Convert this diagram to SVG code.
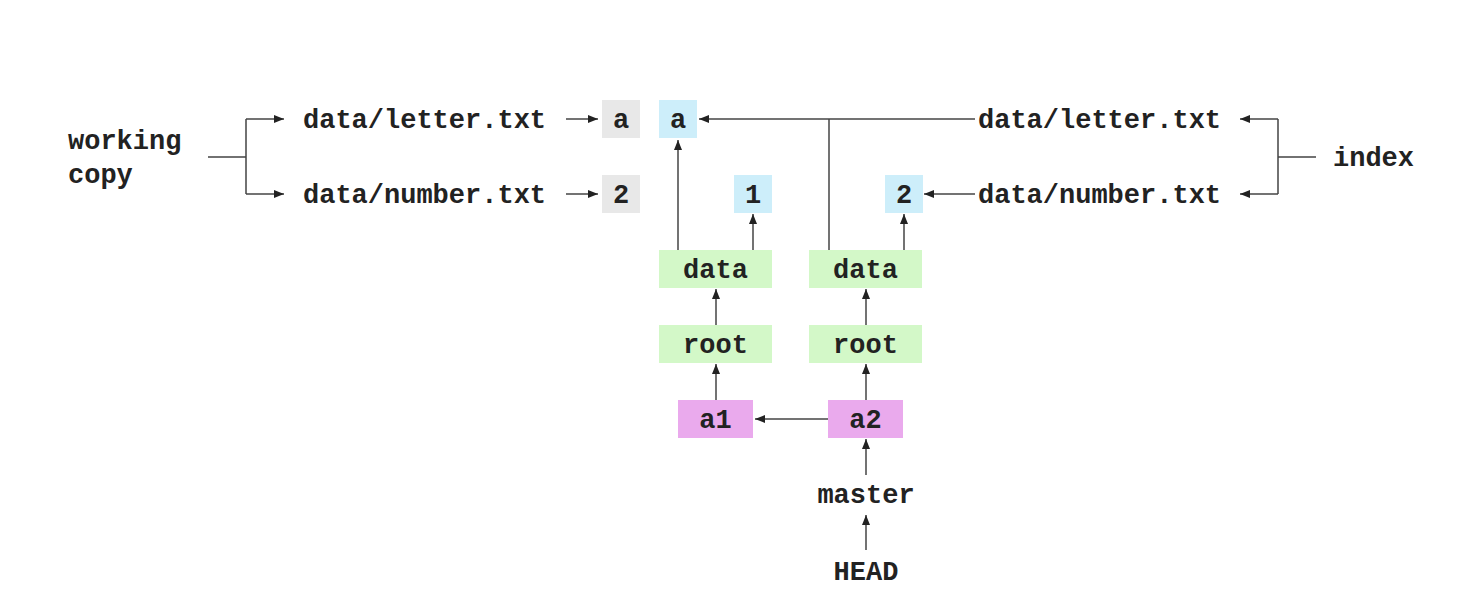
<svg xmlns="http://www.w3.org/2000/svg" width="1470" height="610" viewBox="0 0 1470 610">
<defs>
<marker id="ah" viewBox="0 0 10 8" refX="10" refY="4" markerWidth="10" markerHeight="8" markerUnits="userSpaceOnUse" orient="auto">
<path d="M0,0 L10,4 L0,8 Z" fill="#222"/>
</marker>
</defs>
<style>
text{font-family:"Liberation Mono","Courier New",monospace;font-weight:bold;font-size:27px;fill:#222}
.c{text-anchor:middle}
.ln{stroke:#444;stroke-width:1.5;fill:none}
.ar{stroke:#444;stroke-width:1.5;fill:none;marker-end:url(#ah)}
.gray{fill:#e8e8e8}
.blue{fill:#cdeefa}
.green{fill:#d3f8c8}
.pink{fill:#eaaaed}
</style>
<rect width="1470" height="610" fill="#fff"/>
<g id="connectors">
<path class="ln" d="M208,157 H246 M246,119 V194"/>
<path class="ar" d="M246,119 H284"/>
<path class="ar" d="M246,194 H284"/>
<path class="ar" d="M566,119 H598"/>
<path class="ar" d="M566,194 H598"/>
<path class="ar" d="M975,119 H699"/>
<path class="ln" d="M829,119 V250"/>
<path class="ar" d="M975,194 H924"/>
<path class="ar" d="M678,250 V140"/>
<path class="ar" d="M753,250 V214"/>
<path class="ar" d="M904,250 V214"/>
<path class="ar" d="M716,325 V289"/>
<path class="ar" d="M866,325 V289"/>
<path class="ar" d="M716,400 V364"/>
<path class="ar" d="M866,400 V364"/>
<path class="ar" d="M828,419 H755"/>
<path class="ar" d="M866,475 V439"/>
<path class="ar" d="M866,550 V515"/>
<path class="ln" d="M1316,157 H1278 M1278,119 V194"/>
<path class="ar" d="M1278,119 H1240"/>
<path class="ar" d="M1278,194 H1240"/>
</g>
<g id="working-copy"><text x="68" y="149">working</text><text x="68" y="183">copy</text></g>
<g id="wc-letter"><text x="303" y="128">data/letter.txt</text></g>
<g id="wc-number"><text x="303" y="203">data/number.txt</text></g>
<g id="wc-a"><rect class="gray" x="602" y="100" width="38" height="38"/><text class="c" x="621" y="128">a</text></g>
<g id="wc-2"><rect class="gray" x="602" y="175" width="38" height="38"/><text class="c" x="621" y="203">2</text></g>
<g id="blob-a"><rect class="blue" x="659" y="100" width="38" height="38"/><text class="c" x="678" y="128">a</text></g>
<g id="blob-1"><rect class="blue" x="734" y="175" width="38" height="38"/><text class="c" x="753" y="203">1</text></g>
<g id="blob-2"><rect class="blue" x="885" y="175" width="38" height="38"/><text class="c" x="904" y="203">2</text></g>
<g id="data1"><rect class="green" x="659" y="250" width="113" height="38"/><text class="c" x="715.5" y="278">data</text></g>
<g id="data2"><rect class="green" x="809" y="250" width="113" height="38"/><text class="c" x="865.5" y="278">data</text></g>
<g id="root1"><rect class="green" x="659" y="325" width="113" height="38"/><text class="c" x="715.5" y="353">root</text></g>
<g id="root2"><rect class="green" x="809" y="325" width="113" height="38"/><text class="c" x="865.5" y="353">root</text></g>
<g id="a1"><rect class="pink" x="678" y="400" width="75" height="38"/><text class="c" x="715.5" y="428">a1</text></g>
<g id="a2"><rect class="pink" x="828" y="400" width="75" height="38"/><text class="c" x="865.5" y="428">a2</text></g>
<g id="master"><text class="c" x="866" y="503">master</text></g>
<g id="head"><text class="c" x="866" y="580">HEAD</text></g>
<g id="ix-letter"><text x="978" y="128">data/letter.txt</text></g>
<g id="ix-number"><text x="978" y="203">data/number.txt</text></g>
<g id="index"><text x="1333" y="166">index</text></g>
</svg>
